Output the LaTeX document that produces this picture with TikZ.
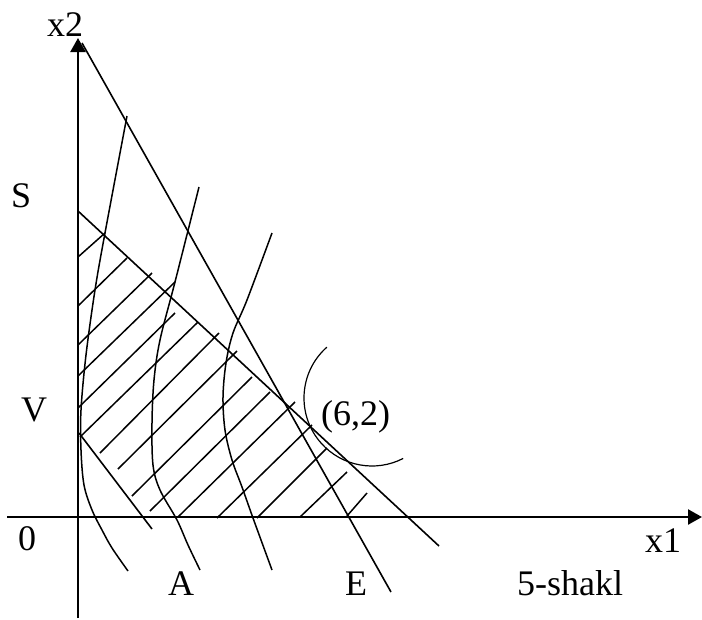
\documentclass[tikz,border=0pt]{standalone}
\usepackage{fontspec}
\setmainfont{Liberation Serif}
\usetikzlibrary{arrows.meta}
\tikzset{
  axisline/.style={-{Triangle[length=14pt,width=15pt]},line width=2.4pt},
  bound/.style={line width=1.6pt},
  level/.style={line width=1.5pt,smooth,tension=0.55},
  hatch/.style={line width=1.5pt},
  lbl/.style={anchor=base west,inner sep=0pt,font=\fontsize{36}{40}\selectfont}
}

\begin{document}
\begin{tikzpicture}[x=1pt,y=-1pt,line cap=butt]
    \useasboundingbox (0,0) rectangle (702,619);
    % key points
    \coordinate (origin) at (78,517);
    \coordinate (top) at (82,43);
    \coordinate (topend) at (391,592);
    \coordinate (spt) at (78,211);
    \coordinate (send) at (439,546);
    \coordinate (vpt) at (79,433);
    \coordinate (vend) at (152,529);
    \coordinate (optc) at (372,398);
    % axes
    \draw[axisline] (78,618) -- (78,38);
    \draw[axisline] (7,517) -- (702,517);
    % constraint lines
    \draw[bound] (top) -- (topend);
    \draw[bound] (spt) -- (send);
    \draw[bound] (vpt) -- (vend);
    % hatching
    \foreach \a/\b/\c/\d in {78/257/105/233, 78/306/127/258, 78/345/152/273, 78/376/175/282,
      78/408/175/313, 80/437/198/322, 100/453/219/333, 118/469/237/351, 132/496/252/377,
      150/511/270/392, 178/517/295/402, 217/518/312/425, 257/518/327/448, 300/517/347/472,
      347/516/367/493}
      \draw[hatch] (\a,\b) -- (\c,\d);
    % level curves
    \draw[level] plot coordinates {(127,116) (105,233) (95,290) (86,355) (81,410) (81,450)
      (84,485) (92,510) (102,530) (112,548) (128,571)};
    \draw[level] plot coordinates {(199,187) (175,282) (160,340) (154,380) (152,423) (153,465)
      (160,490) (177,520) (188,545) (200,570)};
    \draw[level] plot coordinates {(272,233) (247,300) (233,333) (226,363) (223,397) (225,430)
      (232,460) (242,487) (253,518) (272,570)};
    \draw[line width=1.2pt] (optc) ++(228.4:68) arc[start angle=228.4,end angle=62.7,radius=68];
    % labels
    \node[lbl] (lx2) at (47,36) {x2};
    \node[lbl] (lS) at (11,207) {S};
    \node[lbl] (lV) at (21,421) {V};
    \node[lbl] (l0) at (18,550) {0};
    \node[lbl] (lA) at (168,595) {A};
    \node[lbl] (lE) at (345,595) {E};
    \node[lbl] (lx1) at (645,552) {x1};
    \node[lbl] (lshakl) at (517,595) {5-shakl};
    \node[lbl] (l62) at (321,425) {(6,2)};
\end{tikzpicture}
\end{document}
